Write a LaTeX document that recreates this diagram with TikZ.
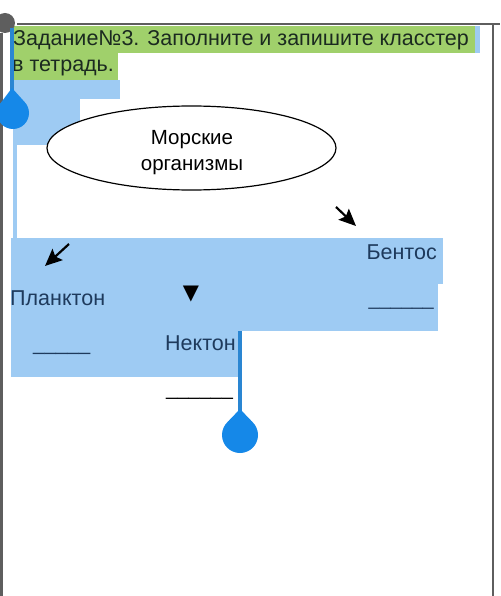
\documentclass[tikz,border=0pt]{standalone}
\usepackage{fontspec}
\setmainfont{Liberation Sans}
\newfontfamily\symfont{DejaVu Sans}
\usetikzlibrary{arrows.meta,shapes.geometric}
\definecolor{selgreen}{HTML}{A0D06B}
\definecolor{selblue}{HTML}{9ECBF3}
\definecolor{seltext}{HTML}{1E3A5C}
\definecolor{titletext}{HTML}{1B2A20}
\definecolor{handleblue}{HTML}{1588E8}
\definecolor{handleline}{HTML}{2A86D2}
\definecolor{framegray}{HTML}{5E5E5E}
\begin{document}
\begin{tikzpicture}[x=1pt,y=-1pt,
  txt/.style={inner sep=0pt,font=\fontsize{21.5}{25}\selectfont},
  ovaltxt/.style={inner sep=0pt,font=\fontsize{20.5}{24}\selectfont},
  seltxt/.style={txt,text=seltext},
  ttl/.style={txt,text=titletext},
  ptr/.style={line width=2.2pt,-{Stealth[length=17pt,width=15pt,inset=3pt]}},
  sel/.style={fill=selblue,draw=none},
  selg/.style={fill=selgreen,draw=none},
  cloud/.style={ellipse,draw=black,line width=1.2pt,fill=white,minimum width=289pt,minimum height=84pt,inner sep=0pt}
]
\useasboundingbox[fill=white] (0,0) rectangle (500,596);
% page frame
\draw[framegray,line width=1.5pt] (17,24) -- (500,24);
\draw[framegray,line width=2pt] (493,24) -- (493,596);
\draw[framegray,line width=3pt] (1.5,33) -- (1.5,596);
% selection highlights
\fill[selg] (14,26) rectangle (475,53);
\fill[sel] (475,26) rectangle (480,53);
\fill[selg] (13,53) rectangle (118,80);
\fill[sel] (13,80) rectangle (120,99);
\fill[sel] (13,99) rectangle (80,145);
\fill[sel] (13,145) rectangle (17,238);
\fill[sel] (11,238) rectangle (443,284);
\fill[sel] (11,284) rectangle (438,331);
\fill[sel] (11,331) rectangle (240,377);
% title
\node[ttl,anchor=base west] (t1) at (13,46) {Задание№3. Заполните и запишите класстер};
\node[ttl,anchor=base west] (t2) at (12,72) {в тетрадь.};
% central ellipse
\node[cloud] (root) at (191.5,148) {};
\node[ovaltxt,anchor=base] (r1) at (192,145) {Морские};
\node[ovaltxt,anchor=base] (r2) at (192,170) {организмы};
% arrows
\coordinate (a1s) at (336,207);
\coordinate (a1e) at (356,226);
\coordinate (a2s) at (69,244);
\coordinate (a2e) at (45,266);
\draw[ptr] (a1s) -- (a1e);
\draw[ptr] (a2s) -- (a2e);
\node[inner sep=0pt,font=\symfont\fontsize{21}{21}\selectfont] (down) at (191,294) {▼};
% labels
\node[seltxt,anchor=base east] (bent) at (437,259) {Бентос};
\node[seltxt,anchor=base east,font=\fontsize{19.5}{23}\selectfont] (bentl) at (434,305) {\textunderscore\textunderscore\textunderscore\textunderscore\textunderscore\textunderscore};
\node[seltxt,anchor=base west] (plank) at (10,305) {Планктон};
\node[seltxt,anchor=base west,font=\fontsize{20.5}{24}\selectfont] (plankl) at (33,350) {\textunderscore\textunderscore\textunderscore\textunderscore\textunderscore};
\node[seltxt,anchor=base west] (nekt) at (165,350) {Нектон};
\node[txt,anchor=base west,font=\fontsize{20}{24}\selectfont] (nektl) at (166,395) {\textunderscore\textunderscore\textunderscore\textunderscore\textunderscore\textunderscore};
% selection handles
\fill[framegray] (5,23) circle (10);
\draw[handleline,line width=3.5pt] (12,28) -- (12,96);
\fill[handleblue] (13,113) circle (16);
\fill[handleblue] (1.7,101.7) -- (12,88) -- (24.3,101.7) -- cycle;
\draw[handleline,line width=4pt] (240,331) -- (240,415);
\fill[handleblue] (240,435) circle (18);
\fill[handleblue] (227.3,422.3) -- (240,409) -- (252.7,422.3) -- cycle;
\end{tikzpicture}
\end{document}
